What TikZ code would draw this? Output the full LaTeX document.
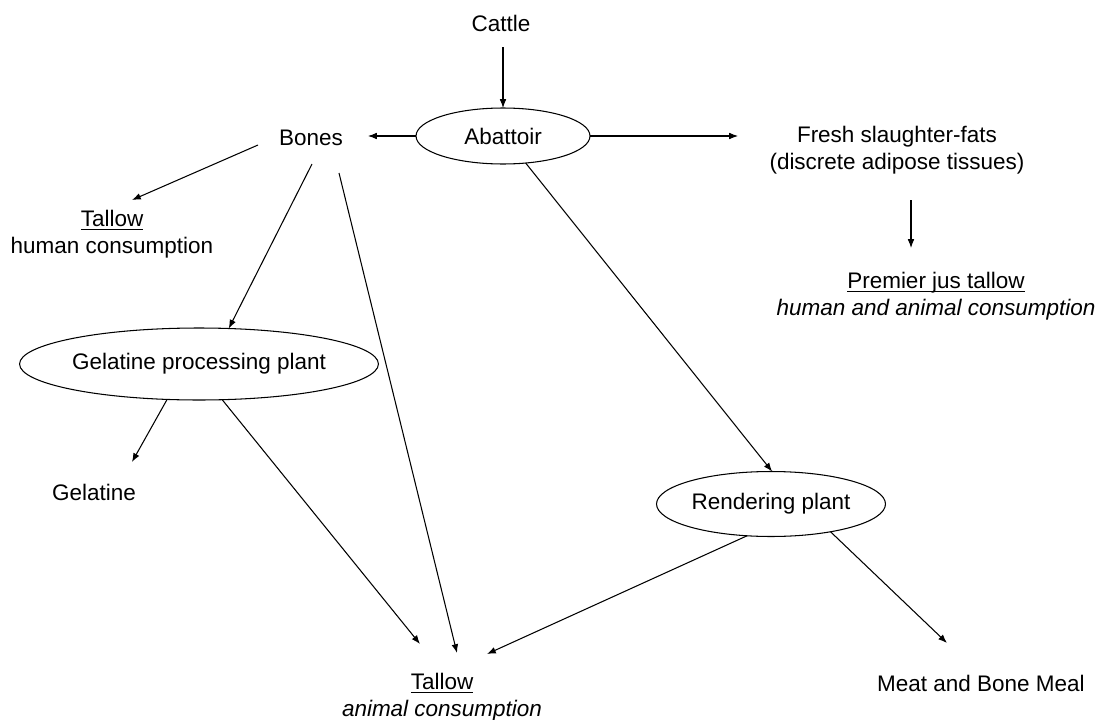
\documentclass[tikz,border=0pt]{standalone}
\usepackage{fontspec}
\setmainfont{Liberation Sans}
\usetikzlibrary{arrows.meta,shapes.geometric}
\newcommand\undl[1]{\leavevmode\setbox0=\hbox{#1}\rlap{\rule[-2.2pt]{\wd0}{0.55pt}}\box0}
\begin{document}
\begin{tikzpicture}[x=0.02cm, y=-0.02cm,
    txt/.style={font=\fontsize{12.8}{15.3}\selectfont, align=center, inner sep=1pt},
    plant/.style={ellipse, draw, line width=0.6pt, inner sep=0pt, outer sep=0pt, font=\fontsize{12.8}{15.3}\selectfont},
    flow/.style={-{Latex[length=5pt,width=3.8pt]}, line width=0.6pt}]
  \useasboundingbox (0,0) rectangle (1099,720);

  \node[txt] (cattle) at (501,23) {Cattle};
  \node[plant, minimum width=3.48cm, minimum height=1.12cm] (abattoir) at (503,136) {Abattoir};
  \node[txt] (bones) at (311,138) {Bones};
  \node[txt] (fresh) at (897,150) {Fresh slaughter-fats\\(discrete adipose tissues)};
  \node[txt] (premier) at (936,296) {\undl{Premier jus tallow}\\\textit{human and animal consumption}};
  \node[txt] (tallowh) at (112,234) {\undl{Tallow}\\human consumption};
  \node[plant, minimum width=6.38cm, minimum height=1.44cm] (gelplant) at (199,364) {Gelatine processing plant};
  \node[txt] (gelatine) at (94,492) {Gelatine};
  \node[plant, minimum width=4.58cm, minimum height=1.3cm] (rendering) at (771,504) {Rendering plant};
  \node[txt] (tallowa) at (442,697) {\undl{Tallow}\\\textit{animal consumption}};
  \node[txt] (meat) at (981,683) {Meat and Bone Meal};

  \draw[flow] ([shift={(2,24)}]cattle.center) -- (abattoir.north);
  \draw[flow] (abattoir.west) -- ([shift={(57,-2)}]bones.center);
  \draw[flow] (abattoir.east) -- ([shift={(-159,-14)}]fresh.center);
  \draw[flow] ([shift={(14,50)}]fresh.center) -- ([shift={(-25,-48)}]premier.center);

  \draw[flow] ([shift={(-53,7)}]bones.center) -- ([shift={(20,-34)}]tallowh.center);
  \draw[flow] ([shift={(1,26)}]bones.center) -- (gelplant.50);
  \draw[flow] ([shift={(28,35)}]bones.center) -- ([shift={(15,-44)}]tallowa.center);

  \draw[flow] (gelplant.-132) -- ([shift={(38,-30)}]gelatine.center);
  \draw[flow] (gelplant.-57) -- ([shift={(-22,-53)}]tallowa.center);

  \draw[flow] (abattoir.-50) -- (rendering.88);
  \draw[flow] (rendering.-127) -- ([shift={(45,-43)}]tallowa.center);
  \draw[flow] (rendering.-25) -- ([shift={(-34,-40)}]meat.center);
\end{tikzpicture}
\end{document}
